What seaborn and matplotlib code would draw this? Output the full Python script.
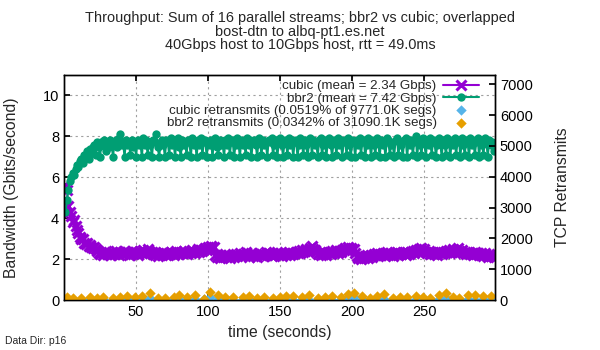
import numpy as np
import seaborn as sns
import matplotlib.pyplot as plt

# throughput per second (Gbps)
cubic_gbps = [
    5.6, 5.4, 4.6, 4.3, 4.1, 3.8, 3.9, 3.6, 3.4, 3.3, 3.1, 3.0, 3.0, 2.8, 2.75, 2.8, 2.65, 2.7, 2.6, 2.55,
    2.6, 2.5, 2.4, 2.3, 2.25, 2.35, 2.2, 2.3, 2.4, 2.25, 2.3, 2.2, 2.35, 2.3, 2.25, 2.4, 2.3, 2.2, 2.35, 2.3,
    2.25, 2.4, 2.3, 2.35, 2.2, 2.3, 2.4, 2.25, 2.3, 2.35, 2.2, 2.3, 2.4, 2.3, 2.45, 2.35, 2.3, 2.5, 2.4, 2.3,
    2.35, 2.25, 2.2, 2.3, 2.15, 2.25, 2.3, 2.2, 2.35, 2.25, 2.3, 2.2, 2.25, 2.35, 2.3, 2.2, 2.3, 2.4, 2.25, 2.3,
    2.35, 2.3, 2.4, 2.3, 2.25, 2.35, 2.4, 2.3, 2.45, 2.35, 2.3, 2.4, 2.5, 2.35, 2.45, 2.4, 2.5, 2.55, 2.45, 2.6,
    2.5, 2.65, 2.55, 2.6, 2.2, 2.1, 2.15, 2.05, 2.2, 2.1, 2.15, 2.25, 2.1, 2.2, 2.05, 2.15, 2.2, 2.1, 2.25, 2.15,
    2.2, 2.3, 2.15, 2.25, 2.2, 2.35, 2.25, 2.1, 2.2, 2.3, 2.15, 2.25, 2.2, 2.1, 2.25, 2.3, 2.2, 2.15, 2.25, 2.35,
    2.2, 2.3, 2.25, 2.15, 2.3, 2.2, 2.25, 2.35, 2.2, 2.3, 2.15, 2.25, 2.3, 2.2, 2.25, 2.35, 2.2, 2.3, 2.25, 2.3,
    2.35, 2.3, 2.4, 2.3, 2.45, 2.35, 2.4, 2.5, 2.4, 2.45, 2.55, 2.65, 2.5, 2.45, 2.35, 2.25, 2.3, 2.2, 2.35, 2.25,
    2.3, 2.2, 2.35, 2.3, 2.25, 2.4, 2.3, 2.35, 2.45, 2.3, 2.4, 2.35, 2.45, 2.5, 2.55, 2.45, 2.6, 2.5, 2.55, 2.45,
    2.5, 2.3, 2.15, 2.05, 2.1, 2.0, 2.15, 2.05, 2.1, 2.2, 2.05, 2.15, 2.2, 2.1, 2.25, 2.2, 2.3, 2.15, 2.25, 2.2,
    2.3, 2.2, 2.25, 2.35, 2.2, 2.3, 2.25, 2.15, 2.3, 2.25, 2.35, 2.2, 2.3, 2.25, 2.35, 2.3, 2.2, 2.35, 2.25, 2.3,
    2.35, 2.4, 2.3, 2.45, 2.4, 2.5, 2.45, 2.55, 2.4, 2.5, 2.35, 2.3, 2.4, 2.25, 2.3, 2.35, 2.25, 2.3, 2.2, 2.35,
    2.3, 2.25, 2.35, 2.3, 2.4, 2.35, 2.45, 2.3, 2.4, 2.5, 2.35, 2.45, 2.55, 2.4, 2.35, 2.45, 2.3, 2.35, 2.25, 2.3,
    2.35, 2.25, 2.3, 2.2, 2.35, 2.25, 2.3, 2.2, 2.3, 2.25, 2.15, 2.3, 2.2, 2.1, 2.25, 2.15, 2.2, 2.1,
]

bbr2_gbps = [
    4.3, 4.9, 5.4, 5.8, 6.0, 6.2, 6.1, 6.4, 6.6, 6.5, 6.8, 6.9, 6.7, 7.1, 7.0, 7.3, 6.9, 7.4, 7.2, 7.5,
    7.6, 7.1, 7.7, 7.5, 7.0, 7.7, 7.6, 7.8, 7.3, 7.7, 7.5, 7.8, 7.6, 7.0, 7.7, 7.8, 7.5, 7.9, 8.1, 7.6,
    7.7, 7.0, 7.8, 7.6, 7.7, 7.1, 7.8, 7.5, 7.7, 7.0, 7.8, 7.6, 7.7, 7.0, 7.9, 7.6, 7.8, 7.1, 7.7, 7.6,
    7.0, 7.8, 7.7, 8.1, 7.5, 7.0, 7.7, 7.8, 7.6, 7.0, 7.8, 7.7, 7.1, 7.9, 7.6, 7.8, 7.0, 7.7, 7.9, 7.5,
    7.0, 7.8, 7.6, 7.7, 7.1, 7.8, 7.7, 7.0, 7.9, 7.6, 7.7, 7.0, 7.8, 7.6, 7.9, 7.1, 7.7, 7.8, 7.0, 7.7,
    7.6, 7.8, 7.0, 7.7, 7.9, 7.5, 7.1, 7.8, 7.6, 7.7, 7.0, 7.8, 7.6, 7.9, 7.1, 7.7, 7.8, 7.0, 7.6, 7.9,
    7.7, 7.0, 7.8, 7.6, 7.7, 7.1, 7.9, 7.6, 7.8, 7.0, 7.7, 7.8, 7.6, 7.0, 7.9, 7.7, 7.1, 7.8, 7.6, 7.7,
    7.0, 7.8, 7.7, 7.9, 7.1, 7.6, 7.8, 7.0, 7.7, 7.9, 7.6, 7.0, 7.8, 7.7, 7.1, 7.9, 7.6, 7.8, 7.0, 7.7,
    7.8, 7.0, 7.6, 7.9, 7.7, 7.1, 7.8, 7.6, 7.0, 7.7, 7.9, 7.1, 7.8, 7.6, 7.7, 7.0, 7.8, 7.9, 7.1, 7.6,
    7.8, 7.0, 7.7, 7.9, 7.6, 7.0, 7.8, 7.7, 7.1, 7.9, 7.6, 7.8, 7.0, 7.7, 7.8, 7.1, 7.9, 7.6, 7.0, 7.8,
    7.7, 7.0, 7.8, 7.6, 7.9, 7.1, 7.7, 7.8, 7.0, 7.6, 7.9, 7.7, 7.0, 7.8, 7.6, 7.1, 7.9, 7.7, 7.0, 7.8,
    7.6, 7.7, 7.0, 7.9, 7.8, 7.1, 7.6, 7.7, 7.0, 7.8, 7.9, 7.1, 7.7, 7.6, 7.0, 7.8, 7.9, 7.0, 7.7, 7.6,
    7.8, 7.1, 7.7, 8.0, 7.0, 7.8, 7.6, 7.1, 7.9, 7.7, 7.0, 7.8, 7.6, 7.9, 7.1, 7.7, 7.8, 7.0, 7.6, 7.9,
    7.7, 7.0, 7.8, 7.6, 7.1, 7.9, 7.7, 7.0, 7.8, 7.6, 7.9, 7.1, 7.7, 7.8, 7.0, 7.9, 7.6, 7.1, 7.8, 7.7,
    7.0, 7.9, 7.6, 7.8, 7.1, 7.7, 7.9, 7.0, 7.8, 7.6, 7.1, 7.9, 7.7, 7.0, 7.8, 7.6, 7.7, 7.3,
]

seconds = np.arange(1, len(cubic_gbps) + 1)

# retransmit samples (right axis)
retrans_times = [0, 2, 6, 12, 18, 23, 27, 34, 39, 44, 49, 54, 60, 65, 70, 76, 80, 85, 91, 97,
                 101, 107, 112, 117, 124, 128, 134, 139, 145, 150, 154, 159, 165, 170, 176, 181, 186, 192, 197,
                 201, 207, 212, 217, 222, 228, 233, 238, 244, 249, 254, 260, 265, 270, 274, 280, 285, 291, 296]
cubic_retrans = [10, 0, 20, 10, 30, 0, 20, 10, 0, 20, 40, 30, 60, 10, 0, 20, 40, 10, 30, 20,
                 100, 30, 10, 0, 20, 30, 0, 10, 20, 30, 10, 0, 20, 10, 30, 20, 10, 30, 90,
                 110, 20, 0, 10, 30, 20, 10, 0, 20, 30, 40, 30, 80, 10, 20, 30, 10, 30, 20]
bbr2_retrans = [30, 90, 60, 70, 100, 80, 110, 60, 90, 120, 100, 140, 220, 60, 50, 90, 160, 110, 150, 40,
                260, 170, 90, 110, 90, 140, 80, 100, 70, 110, 130, 120, 90, 150, 80, 90, 120, 110, 200,
                230, 120, 70, 130, 180, 50, 100, 90, 120, 110, 80, 160, 240, 110, 60, 150, 160, 140, 130]

PURPLE = '#9400d3'
GREEN = '#009e73'
SKY = '#56b4e9'
ORANGE = '#e69f00'

sns.set_theme(style='ticks')
plt.rcParams['font.family'] = ['Liberation Sans', 'DejaVu Sans']

fig = plt.figure(figsize=(6, 3.5), dpi=100)
ax = fig.add_axes([64 / 600, 1 - 300 / 350, (495 - 64) / 600, 225 / 350])
ax2 = ax.twinx()

sns.lineplot(x=seconds, y=cubic_gbps, ax=ax, color=PURPLE, linewidth=1.5, marker='x',
             markersize=6.5, markeredgewidth=2.2, markeredgecolor=PURPLE,
             label='cubic (mean = 2.34 Gbps)', legend=False)
sns.lineplot(x=seconds, y=bbr2_gbps, ax=ax, color=GREEN, linewidth=1.5, marker='o',
             markersize=6, markeredgewidth=0, label='bbr2 (mean = 7.42 Gbps)', legend=False)
sns.scatterplot(x=retrans_times, y=cubic_retrans, ax=ax2, color=SKY, marker='D', s=28,
                linewidth=0, label='cubic retransmits (0.0519% of 9771.0K segs)', legend=False)
sns.scatterplot(x=retrans_times, y=bbr2_retrans, ax=ax2, color=ORANGE, marker='D', s=28,
                linewidth=0, label='bbr2 retransmits (0.0342% of 31090.1K segs)', legend=False)

ax.set_xlim(0, 299)
ax.set_ylim(0, 11)
ax.set_xticks([50, 100, 150, 200, 250])
ax.set_yticks([0, 2, 4, 6, 8, 10])
ax2.set_ylim(0, 7300)
ax2.set_yticks(range(0, 7001, 1000))

ax.grid(True, linestyle=(0, (2, 3)), color='#a0a0a0', linewidth=0.8)
ax.set_axisbelow(True)
ax.tick_params(direction='in', top=True, length=4, labelsize=10.5, colors='black')
ax2.tick_params(direction='in', length=4, labelsize=10.5, colors='black')
for a in (ax, ax2):
    for s in a.spines.values():
        s.set_color('black')
        s.set_linewidth(1)

ax.set_xlabel('time (seconds)', fontsize=11.3)
ax.set_ylabel('Bandwidth (Gbits/second)', fontsize=11.3)
ax2.set_ylabel('TCP Retransmits', fontsize=11.3)
ax.xaxis.set_label_coords(0.5, -0.11)
ax.yaxis.set_label_coords(-0.104, 0.5)
ax2.yaxis.set_label_coords(1.139, 0.5)

h1, l1 = ax.get_legend_handles_labels()
h2, l2 = ax2.get_legend_handles_labels()
ax2.legend(h1 + h2, l1 + l2, loc='upper right', bbox_to_anchor=(0.97, 0.99), frameon=False,
           markerfirst=False, fontsize=9.6, handlelength=2.7, handletextpad=0.5,
           labelspacing=0.0, borderpad=0.2, borderaxespad=0)

fig.suptitle('Throughput: Sum of 16 parallel streams; bbr2 vs cubic; overlapped\n'
             'bost-dtn to albq-pt1.es.net\n'
             '40Gbps host to 10Gbps host, rtt = 49.0ms',
             x=0.5, y=0.968, fontsize=10.45, linespacing=0.95)
fig.text(0.008, 0.018, 'Data Dir: p16', fontsize=7.5)

fig.savefig('out.png', dpi=100)
